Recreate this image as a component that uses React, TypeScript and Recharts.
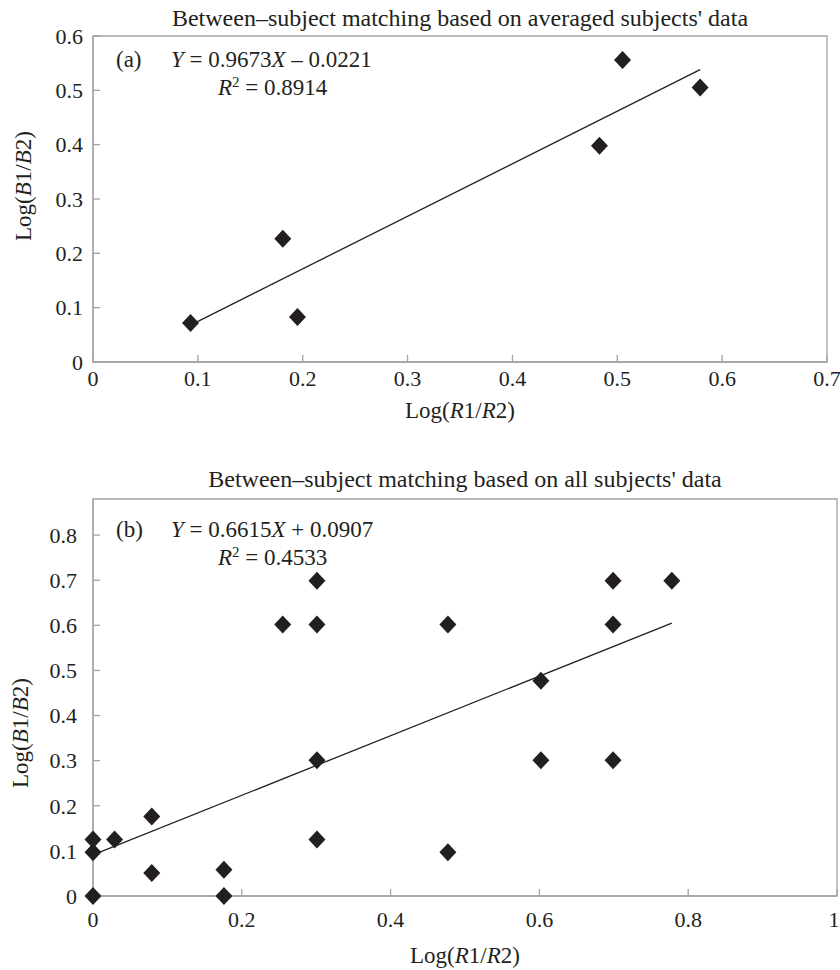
import React from 'react';
import { ScatterChart, Scatter, XAxis, YAxis, ReferenceArea } from 'recharts';

// (a) averaged subjects' data
const avgX = [0.093, 0.181, 0.195, 0.483, 0.505, 0.579];
const avgY = [0.072, 0.227, 0.083, 0.398, 0.556, 0.505];
// trend line ends
const avgFitX = [0.093, 0.579];
const avgFitY = [0.068, 0.538];

// (b) all subjects' data
const allX = [0, 0, 0, 0.029, 0.079, 0.079, 0.176, 0.176, 0.255, 0.301, 0.301, 0.301, 0.301, 0.477, 0.477, 0.602, 0.602, 0.699, 0.699, 0.699, 0.778];
const allY = [0, 0.097, 0.125, 0.125, 0.176, 0.051, 0.058, 0, 0.602, 0.602, 0.699, 0.301, 0.125, 0.602, 0.097, 0.477, 0.301, 0.699, 0.602, 0.301, 0.699];
const allFitX = [0, 0.778];
const allFitY = [0.091, 0.605];

const ticksAX = [0, 0.1, 0.2, 0.3, 0.4, 0.5, 0.6, 0.7];
const ticksAY = [0, 0.1, 0.2, 0.3, 0.4, 0.5, 0.6];
const ticksBX = [0, 0.2, 0.4, 0.6, 0.8, 1];
const ticksBY = [0, 0.1, 0.2, 0.3, 0.4, 0.5, 0.6, 0.7, 0.8];

const INK = '#231f20';
const AXIS = '#a3a3a3';
const FONT = 'Liberation Serif, Times New Roman, serif';

const toPoints = (xs: number[], ys: number[]) => xs.map((x, i) => ({ x, y: ys[i] }));

const Diamond = (props: any) => {
  const { cx, cy } = props;
  if (cx == null || cy == null) return <g />;
  return <path d={`M${cx},${cy - 9}L${cx + 8.5},${cy}L${cx},${cy + 9}L${cx - 8.5},${cy}Z`} fill={INK} />;
};

const NoDot = () => <g />;

// serif tick labels; keep the last label inside the page
const XTick = (props: any) => {
  const { x, y, payload } = props;
  return (
    <text x={Math.min(x, 834)} y={y} dy="0.71em" textAnchor="middle" fontFamily={FONT} fontSize={22} fill={INK}>
      {String(payload.value)}
    </text>
  );
};

const YTick = (props: any) => {
  const { x, y, payload } = props;
  return (
    <text x={x} y={y} dy="0.355em" textAnchor="end" fontFamily={FONT} fontSize={22} fill={INK}>
      {String(payload.value)}
    </text>
  );
};

interface PanelProps {
  top: number;
  height: number;
  margin: { top: number; right: number; bottom: number; left: number };
  xDomain: [number, number];
  yDomain: [number, number];
  xTicks: number[];
  yTicks: number[];
  xAxisHeight: number;
  xTickMargin: number;
  yTickMargin: number;
  points: { x: number; y: number }[];
  fit: { x: number; y: number }[];
}

function Panel(p: PanelProps) {
  return (
    <div style={{ position: 'absolute', left: 0, top: p.top }}>
      <ScatterChart width={840} height={p.height} margin={p.margin}>
        <ReferenceArea
          x1={p.xDomain[0]}
          x2={p.xDomain[1]}
          y1={p.yDomain[0]}
          y2={p.yDomain[1]}
          fill="none"
          stroke={AXIS}
          strokeWidth={1.3}
        />
        <XAxis
          type="number"
          dataKey="x"
          domain={p.xDomain}
          ticks={p.xTicks}
          interval={0}
          height={p.xAxisHeight}
          tickSize={-7}
          tickMargin={p.xTickMargin}
          axisLine={{ stroke: AXIS, strokeWidth: 1.3 }}
          tickLine={{ stroke: AXIS, strokeWidth: 1.3 }}
          tick={<XTick />}
        />
        <YAxis
          type="number"
          dataKey="y"
          domain={p.yDomain}
          ticks={p.yTicks}
          interval={0}
          width={93}
          tickSize={-7}
          tickMargin={p.yTickMargin}
          axisLine={{ stroke: AXIS, strokeWidth: 1.3 }}
          tickLine={{ stroke: AXIS, strokeWidth: 1.3 }}
          tick={<YTick />}
        />
        <Scatter data={p.fit} line={{ stroke: INK, strokeWidth: 1.3 }} shape={NoDot} isAnimationActive={false} />
        <Scatter data={p.points} shape={Diamond} isAnimationActive={false} />
      </ScatterChart>
    </div>
  );
}

const it = { fontStyle: 'italic' as const };

export default function App() {
  return (
    <div style={{ position: 'absolute', left: 0, top: 0, width: 840, height: 970, background: '#fff' }}>
      <Panel
        top={0}
        height={450}
        margin={{ top: 36, right: 13, bottom: 0, left: 0 }}
        xDomain={[0, 0.7]}
        yDomain={[0, 0.6]}
        xTicks={ticksAX}
        yTicks={ticksAY}
        xAxisHeight={88}
        xTickMargin={15}
        yTickMargin={17}
        points={toPoints(avgX, avgY)}
        fit={toPoints(avgFitX, avgFitY)}
      />
      <Panel
        top={450}
        height={520}
        margin={{ top: 49, right: 3, bottom: 0, left: 0 }}
        xDomain={[0, 1]}
        yDomain={[0, 0.88]}
        xTicks={ticksBX}
        yTicks={ticksBY}
        xAxisHeight={74}
        xTickMargin={22}
        yTickMargin={23}
        points={toPoints(allX, allY)}
        fit={toPoints(allFitX, allFitY)}
      />
      <svg
        width={840}
        height={970}
        style={{ position: 'absolute', left: 0, top: 0, pointerEvents: 'none' }}
        fontFamily={FONT}
        fill={INK}
        fontSize={24}
      >
        {/* panel (a) */}
        <text x={460} y={26} textAnchor="middle">Between–subject matching based on averaged subjects' data</text>
        <g fontSize={23}>
          <text x={116} y={67}>(a)</text>
          <text x={171} y={67}>
            <tspan {...it}>Y</tspan> = 0.9673<tspan {...it}>X</tspan> – 0.0221
          </text>
          <text x={218} y={95}>
            <tspan {...it}>R</tspan>
            <tspan dy={-8} fontSize={15}>2</tspan>
            <tspan dy={8}> = 0.8914</tspan>
          </text>
        </g>
        <text x={460} y={418} textAnchor="middle" fontSize={23}>
          Log(<tspan {...it}>R</tspan>1/<tspan {...it}>R</tspan>2)
        </text>
        <text transform="translate(31,186) rotate(-90)" textAnchor="middle" fontSize={23}>
          Log(<tspan {...it}>B</tspan>1/<tspan {...it}>B</tspan>2)
        </text>

        {/* panel (b) */}
        <text x={465} y={487} textAnchor="middle">Between–subject matching based on all subjects' data</text>
        <g fontSize={23}>
          <text x={116} y={537}>(b)</text>
          <text x={171} y={537}>
            <tspan {...it}>Y</tspan> = 0.6615<tspan {...it}>X</tspan> + 0.0907
          </text>
          <text x={218} y={565}>
            <tspan {...it}>R</tspan>
            <tspan dy={-8} fontSize={15}>2</tspan>
            <tspan dy={8}> = 0.4533</tspan>
          </text>
        </g>
        <text x={465} y={963} textAnchor="middle" fontSize={23}>
          Log(<tspan {...it}>R</tspan>1/<tspan {...it}>R</tspan>2)
        </text>
        <text transform="translate(28,733) rotate(-90)" textAnchor="middle" fontSize={23}>
          Log(<tspan {...it}>B</tspan>1/<tspan {...it}>B</tspan>2)
        </text>
      </svg>
    </div>
  );
}
